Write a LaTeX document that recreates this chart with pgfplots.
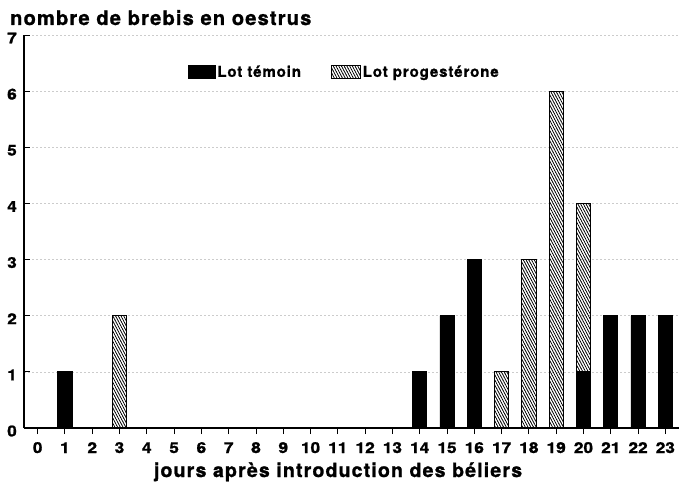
\documentclass[border=0pt]{standalone}
\usepackage{fontspec}
\setmainfont{TeX Gyre Heros}[LetterSpace=6]
\newfontfamily\hv{TeX Gyre Heros}[LetterSpace=6, UprightFont=*, BoldFont=* Bold, BoldFeatures={FakeBold=1.2}]
\newfontfamily\hvw{TeX Gyre Heros}[UprightFont=*, BoldFont=* Bold, BoldFeatures={FakeBold=1.3, FakeStretch=1.15}]
\usepackage{pgfplots}
\pgfplotsset{compat=1.18}
\usetikzlibrary{patterns.meta}
\tikzdeclarepattern{
  name=hatch,
  type=uncolored,
  bounding box={(-.5pt,-.5pt) and (2.5pt,2.5pt)},
  tile size={(2.4pt,2.4pt)},
  tile transformation={rotate=-62},
  code={
    \pgfsetlinewidth{0.7pt}
    \pgfpathmoveto{\pgfpoint{-0.5pt}{0pt}}
    \pgfpathlineto{\pgfpoint{2.9pt}{0pt}}
    \pgfusepath{stroke}
  }
}
\newcommand{\tfont}{\hv\fontsize{15}{15}\selectfont\bfseries}
\newcommand{\kfont}{\hvw\fontsize{15}{15}\selectfont\bfseries}
\pgfplotstableread{
x y
1 1
14 1
15 2
16 3
20 1
21 2
22 2
23 2
}\temoin
\pgfplotstableread{
x y
3 2
17 1
18 3
19 6
20 4
}\proges
\begin{document}
\begin{tikzpicture}
\useasboundingbox (-24pt,-54pt) rectangle (655pt,428pt);
\begin{axis}[
  at={(0,0)}, anchor=south west,
  scale only axis, width=655pt, height=393pt,
  xmin=-0.5, xmax=23.5, ymin=0, ymax=7,
  axis x line*=bottom, axis y line*=left,
  axis line style={line width=1.2pt, -},
  xtick={0,...,23}, ytick={0,...,7},
  xticklabels={0,1,2,3,4,5,6,7,8,9,10,11,12,13,14,15,16,17,18,19,20,21,22,23},
  yticklabels={0,1,2,3,4,5,6,7},
  tick style={black, line width=0.9pt},
  major tick length=6pt,
  tick align=inside,
  /pgf/number format/assume math mode=true,
  tick label style={font=\kfont},
  x tick label style={anchor=base, inner sep=0pt, yshift=-19pt},
  y tick label style={anchor=east, inner sep=0pt, xshift=-7pt, yshift=-3pt},
  ymajorgrids,
  grid style={gray!40, line width=0.6pt, dash pattern=on 2pt off 2pt},
  ybar, bar width=0.52, bar shift=0pt,
  clip=false,
  legend style={at={(0.25,0.906)}, anchor=west, draw=none, fill=none,
    inner sep=0pt, font=\tfont,
    /tikz/every even column/.append style={column sep=28pt}},
  legend columns=2,
]
\addlegendimage{legend image code/.code={\fill[black] (0pt,-6.5pt) rectangle (27pt,6.5pt);}}
\addlegendentry{Lot témoin}
\addlegendimage{legend image code/.code={\draw[pattern=hatch, line width=0.8pt] (0pt,-6.5pt) rectangle (29pt,6.5pt);}}
\addlegendentry{Lot progestérone}
\addplot[forget plot, draw=black, line width=0.8pt, pattern=hatch, pattern color=black] table[x=x,y=y] {\proges};
\addplot[forget plot, draw=black, fill=black, line width=0.8pt] table[x=x,y=y] {\temoin};
\end{axis}
\node[anchor=base west, font=\hv\fontsize{20}{20}\selectfont\bfseries, inner sep=0pt] at (-14pt,403pt) {nombre de brebis en oestrus};
\node[anchor=base, font=\hv\fontsize{19.5}{19.5}\selectfont\bfseries, inner sep=0pt] at (314pt,-49pt) {jours après introduction des béliers};
\end{tikzpicture}
\end{document}
